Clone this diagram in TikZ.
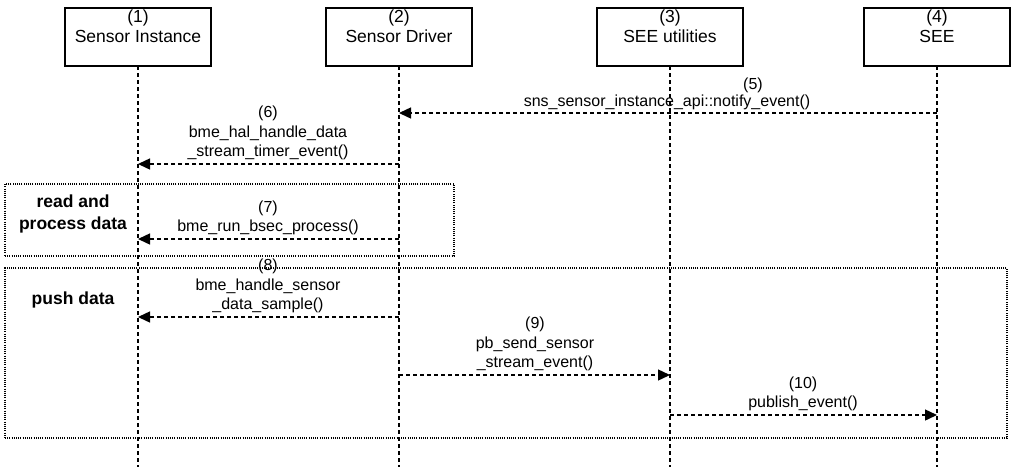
\documentclass[tikz,border=0pt]{standalone}
\usepackage{fontspec}
\setmainfont{Liberation Sans}
\usetikzlibrary{arrows.meta}
\begin{document}
\begin{tikzpicture}[x=1pt,y=-1pt,
  every node/.style={inner sep=0pt, outer sep=0pt},
  txt/.style={font=\fontsize{16}{19.5}\selectfont, align=center},
  headtxt/.style={font=\fontsize{17.5}{20.5}\selectfont, align=center},
  boldtxt/.style={font=\fontsize{17.5}{22}\selectfont\bfseries, align=center},
  actor/.style={draw, line width=1.3pt, minimum width=146pt, minimum height=58pt},
  lifeline/.style={line width=1.4pt, dash pattern=on 4pt off 3pt},
  msg/.style={line width=1.4pt, dash pattern=on 4pt off 3pt, -{Triangle[length=12pt,width=11pt]}},
  frame/.style={line width=1.2pt, dash pattern=on 1pt off 1.2pt}
]
\useasboundingbox (0,0) rectangle (1021,467);

% actors
\node[actor] (a1) at (138,37) {};
\node[actor] (a2) at (399,37) {};
\node[actor] (a3) at (670,37) {};
\node[actor] (a4) at (937,37) {};
\node[headtxt, anchor=north] (t1) at (138,9.5) {(1)\\Sensor Instance};
\node[headtxt, anchor=north] (t2) at (399,9.5) {(2)\\Sensor Driver};
\node[headtxt, anchor=north] (t3) at (670,9.5) {(3)\\SEE utilities};
\node[headtxt, anchor=north] (t4) at (937,9.5) {(4)\\SEE};

% lifeline ends
\coordinate (e1) at (138,467);
\coordinate (e2) at (399,467);
\coordinate (e3) at (670,467);
\coordinate (e4) at (937,467);
\draw[lifeline] (a1.south) -- (e1);
\draw[lifeline] (a2.south) -- (e2);
\draw[lifeline] (a3.south) -- (e3);
\draw[lifeline] (a4.south) -- (e4);

% frames
\node[frame, draw, anchor=north west, minimum width=449pt, minimum height=72pt] (f1) at (5,184) {};
\node[frame, draw, anchor=north west, minimum width=1002pt, minimum height=170pt] (f2) at (5,268) {};
\node[boldtxt] (f1l) at (73,214) {read and\\process data};
\node[boldtxt, anchor=base] (f2l) at (73,304) {push data};

% message end points
\coordinate (m5s) at (937,113); \coordinate (m5e) at (399,113);
\coordinate (m6s) at (399,164); \coordinate (m6e) at (138,164);
\coordinate (m7s) at (399,239); \coordinate (m7e) at (138,239);
\coordinate (m8s) at (399,317); \coordinate (m8e) at (138,317);
\coordinate (m9s) at (399,375); \coordinate (m9e) at (670,375);
\coordinate (m10s) at (670,415); \coordinate (m10e) at (937,415);

\draw[msg] (m5s) -- (m5e);
\draw[msg] (m6s) -- (m6e);
\draw[msg] (m7s) -- (m7e);
\draw[msg] (m8s) -- (m8e);
\draw[msg] (m9s) -- (m9e);
\draw[msg] (m10s) -- (m10e);

% labels
\node[txt, anchor=base] (l5a) at (753,89) {(5)};
\node[txt, anchor=base] (l5b) at (667,106) {sns\_sensor\_instance\_api::notify\_event()};
\node[txt, anchor=south] (l6) at (268,160) {(6)\\bme\_hal\_handle\_data\\\_stream\_timer\_event()};
\node[txt, anchor=south] (l7) at (268,235) {(7)\\bme\_run\_bsec\_process()};
\node[txt, anchor=south] (l8) at (268,313) {(8)\\bme\_handle\_sensor\\\_data\_sample()};
\node[txt, anchor=south] (l9) at (535,371) {(9)\\pb\_send\_sensor\\\_stream\_event()};
\node[txt, anchor=south] (l10) at (803,411) {(10)\\publish\_event()};
\end{tikzpicture}
\end{document}
